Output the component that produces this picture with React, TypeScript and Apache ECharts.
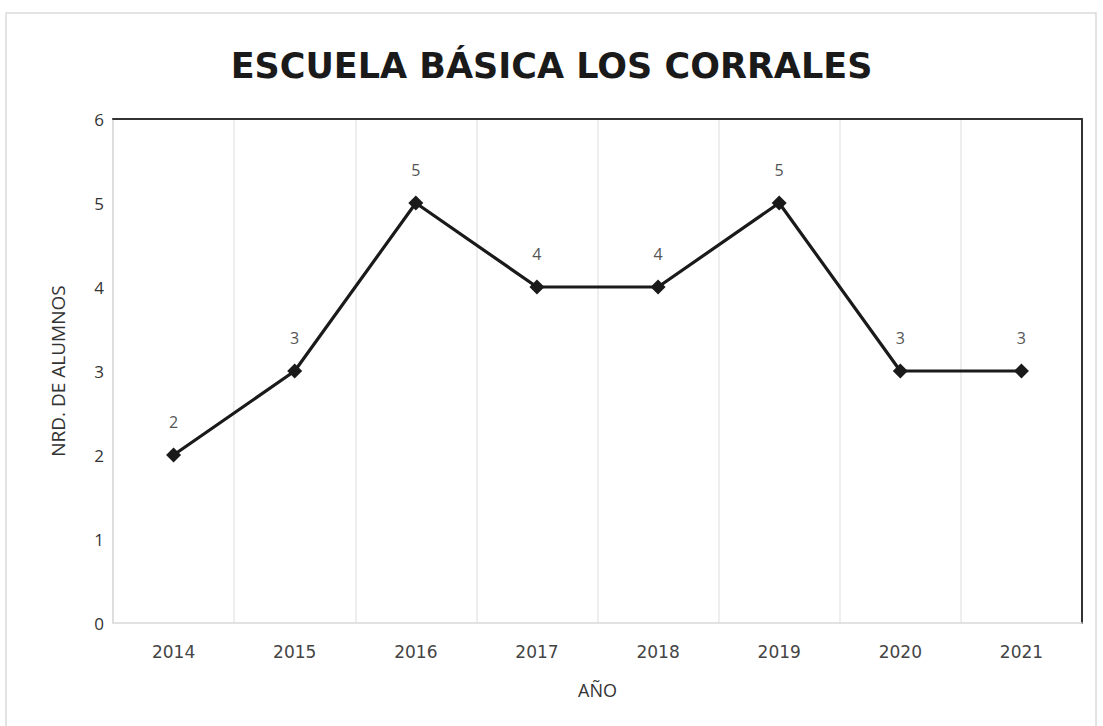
import React, { useEffect, useRef } from "react";
import * as echarts from "echarts";

const categories = ["2014", "2015", "2016", "2017", "2018", "2019", "2020", "2021"];
const alumnos = [2, 3, 5, 4, 4, 5, 3, 3];
const titleText = "ESCUELA BÁSICA LOS CORRALES";
const yAxisName = "NRD. DE ALUMNOS";
const xAxisName = "AÑO";

export default function App() {
  const ref = useRef<HTMLDivElement>(null);
  useEffect(() => {
    document.body.style.margin = "0";
    const chart = echarts.init(ref.current!, null, { renderer: "svg" });
    chart.setOption({
      animation: false,
      backgroundColor: "#ffffff",
      title: {
        text: titleText,
        left: "center",
        top: 43,
        textStyle: {
          fontFamily: "DejaVu Sans",
          fontWeight: "bold",
          fontSize: 35,
          color: "#1a1a1a",
        },
      },
      graphic: [
        {
          type: "rect",
          shape: { x: 6, y: 13, width: 1090, height: 720 },
          style: { fill: "none", stroke: "#dadada", lineWidth: 1.5 },
          silent: true,
        },
      ],
      grid: { left: 113, right: 21, top: 119, bottom: 103, containLabel: false },
      xAxis: [
        {
          type: "category",
          data: categories,
          boundaryGap: true,
          name: xAxisName,
          nameLocation: "middle",
          nameGap: 58,
          nameTextStyle: { fontFamily: "Open Sans", fontSize: 18, color: "#333" },
          axisLine: { show: true, onZero: false, lineStyle: { color: "#d9d9d9", width: 1.5 } },
          axisTick: { show: false },
          axisLabel: {
            margin: 20,
            fontFamily: "DejaVu Sans",
            fontSize: 17,
            color: "#444",
          },
          splitLine: { show: true, interval: 0, lineStyle: { color: "#e8e8e8", width: 1.5 } },
        },
        {
          type: "category",
          data: categories,
          position: "top",
          axisLine: { show: true, onZero: false, lineStyle: { color: "#333", width: 2 } },
          axisTick: { show: false },
          axisLabel: { show: false },
          splitLine: { show: false },
        },
      ],
      yAxis: [
        {
          type: "value",
          min: 0,
          max: 6,
          interval: 1,
          name: yAxisName,
          nameLocation: "middle",
          nameGap: 46,
          nameTextStyle: { fontFamily: "Open Sans", fontSize: 19, color: "#333" },
          axisLine: { show: true, onZero: false, lineStyle: { color: "#d9d9d9", width: 1.5 } },
          axisTick: { show: false },
          axisLabel: { margin: 9, fontFamily: "Open Sans", fontSize: 17, color: "#333" },
          splitLine: { show: false },
        },
        {
          type: "value",
          min: 0,
          max: 6,
          interval: 1,
          position: "right",
          axisLine: { show: true, onZero: false, lineStyle: { color: "#333", width: 2 } },
          axisTick: { show: false },
          axisLabel: { show: false },
          splitLine: { show: false },
        },
      ],
      series: [
        {
          type: "line",
          data: alumnos,
          xAxisIndex: 0,
          yAxisIndex: 0,
          symbol: "diamond",
          symbolSize: 15,
          lineStyle: { color: "#1a1a1a", width: 3.2 },
          itemStyle: { color: "#1a1a1a" },
          label: {
            show: true,
            position: "top",
            distance: 18,
            fontFamily: "Open Sans",
            fontSize: 16,
            color: "#555",
          },
        },
      ],
    });
    return () => chart.dispose();
  }, []);
  return <div ref={ref} style={{ width: 1103, height: 726 }} />;
}
